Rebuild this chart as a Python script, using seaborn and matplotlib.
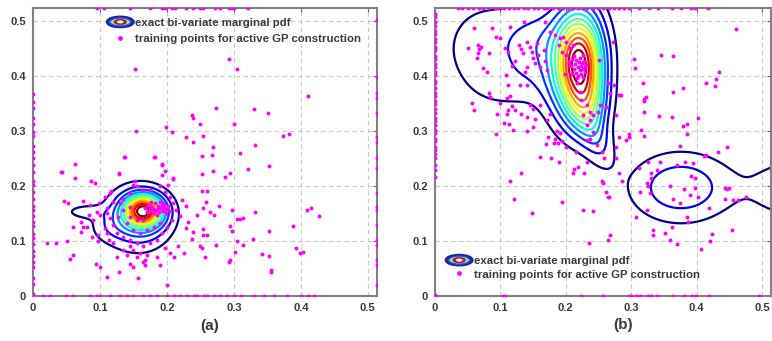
import numpy as np
import pandas as pd
import matplotlib
matplotlib.use("Agg")
import matplotlib.pyplot as plt
import seaborn as sns
from matplotlib.patches import Ellipse
from matplotlib.legend_handler import HandlerBase
from matplotlib.lines import Line2D

# ---------------- data ----------------
XMAX, YMAX = 0.513, 0.523
tick_vals = [0, 0.1, 0.2, 0.3, 0.4, 0.5]
tick_labels = ["0", "0.1", "0.2", "0.3", "0.4", "0.5"]
legend_labels = ["exact bi-variate marginal pdf", "training points for active GP construction"]
panel_labels = ["(a)", "(b)"]

# pdf model (a): mixture components  (height, mean x, mean y, sd x, sd y, corr)
a_h   = [0.75, 0.25, 0.10, 0.06]
a_mx  = [0.165, 0.157, 0.075, 0.11]
a_my  = [0.155, 0.140, 0.153, 0.125]
a_sx  = [0.020, 0.035, 0.020, 0.020]
a_sy  = [0.020, 0.040, 0.009, 0.020]
a_rho = [0.0, 0.0, 0.0, 0.0]

# pdf model (b)
b_h   = [0.72, 0.28, 0.16, 0.20, 0.11, 0.12, 0.05, 0.22, 0.12]
b_mx  = [0.222, 0.210, 0.245, 0.235, 0.150, 0.080, 0.120, 0.376, 0.540]
b_my  = [0.423, 0.420, 0.290, 0.345, 0.460, 0.450, 0.380, 0.197, 0.195]
b_sx  = [0.024, 0.033, 0.020, 0.020, 0.030, 0.055, 0.040, 0.055, 0.045]
b_sy  = [0.062, 0.075, 0.040, 0.035, 0.045, 0.070, 0.030, 0.045, 0.045]
b_rho = [0.0, 0.0, -0.5, 0.0, 0.0, 0.0, 0.0, 0.0, 0.0]

# training points (a)
a_x = [0.293,0.305,0.411,0.273,0.330,0.351,0.250,0.300,0.254,0.374,0.382,0.269,0.331,0.252,0.267,0.309,0.352,0.321,0.269,0.253,
       0.287,0.294,0.252,0.260,0.258,0.278,0.264,0.271,0.297,0.332,0.304,0.309,0.314,0.409,0.415,0.427,0.294,0.297,0.254,0.260,
       0.388,0.353,0.305,0.314,0.329,0.273,0.252,0.257,0.301,0.342,0.352,0.393,0.399,0.403,0.294,0.293,0.355,0.355,
       0.152,0.237,0.239,0.229,0.239,0.207,0.198,0.154,0.192,0.192,0.182,0.209,0.201,0.149,0.129,0.137,0.042,0.062,0.087,
       0.181,0.136,0.063,0.193,0.043,0.129,0.197,0.093,0.209,0.152,0.117,0.046,0.052,0.075,0.085,0.099,0.111,0.222,0.229,0.219,
       0.232,0.245,0.254,0.229,0.239,0.237,0.249,0.254,0.217,0.226,0.021,0.035,0.051,0.059,0.060,0.056,0.072,0.075,0.072,0.080,
       0.084,0.090,0.088,0.097,0.097,0.107,0.110,0.114,0.119,0.094,0.100,0.110,0.126,0.134,0.141,0.145,0.150,0.129,0.157,0.165,
       0.167,0.160,0.155,0.170,0.168,0.185,0.190,0.200,0.197,0.205,0.210,0.145,0.150,
       0.115,0.107,0.120,0.130,0.135,0.145,0.155,0.165,0.175,0.190,0.197,0.204,0.209,0.214,0.207,0.200,0.192,0.185,0.175,0.165,
       0.155,0.145,0.135,0.125,0.120,0.115,0.110,0.100,0.095,0.127,0.140,0.150,0.160,0.170,0.180,0.190,0.145,0.155,0.165,0.135,0.145,
       0.168,0.172,0.175,0.178,0.180,0.182,0.184,0.186,0.188,0.190,0.192,0.194,0.196,0.198,0.200,0.202,0.185,0.176,0.190,0.170,
       0.196,0.204,0.179,0.187,0.193]
a_y = [0.430,0.412,0.363,0.341,0.340,0.332,0.312,0.312,0.291,0.290,0.295,0.270,0.274,0.255,0.256,0.260,0.236,0.231,0.227,0.222,
       0.216,0.223,0.191,0.191,0.170,0.163,0.152,0.147,0.156,0.153,0.140,0.140,0.141,0.157,0.159,0.145,0.128,0.118,0.122,0.111,
       0.127,0.118,0.100,0.093,0.104,0.093,0.088,0.070,0.079,0.077,0.072,0.088,0.078,0.079,0.065,0.061,0.047,0.043,
       0.412,0.329,0.323,0.289,0.279,0.297,0.307,0.300,0.238,0.220,0.253,0.214,0.202,0.202,0.223,0.252,0.226,0.214,0.208,
       0.253,0.252,0.239,0.239,0.225,0.222,0.227,0.206,0.212,0.208,0.191,0.172,0.168,0.173,0.165,0.168,0.160,0.174,0.163,0.145,
       0.135,0.147,0.159,0.123,0.117,0.103,0.090,0.111,0.090,0.078,0.096,0.096,0.099,0.126,0.074,0.067,0.135,0.126,0.116,0.125,
       0.147,0.138,0.108,0.110,0.099,0.123,0.114,0.102,0.096,0.058,0.053,0.035,0.071,0.084,0.074,0.058,0.053,0.044,0.032,0.062,
       0.056,0.078,0.071,0.075,0.066,0.070,0.056,0.020,0.088,0.078,0.070,0.090,0.084,
       0.187,0.180,0.171,0.168,0.177,0.187,0.199,0.193,0.193,0.199,0.189,0.180,0.168,0.156,0.138,0.126,0.114,0.102,0.096,0.090,
       0.096,0.102,0.108,0.114,0.129,0.141,0.150,0.147,0.153,0.144,0.132,0.120,0.114,0.120,0.126,0.132,0.144,0.138,0.138,0.156,0.162,
       0.160,0.165,0.155,0.162,0.150,0.168,0.157,0.163,0.152,0.160,0.166,0.155,0.161,0.150,0.158,0.163,0.147,0.170,0.171,0.152,
       0.168,0.155,0.158,0.160,0.158]
a_left_y = [0.004,0.021,0.033,0.052,0.061,0.072,0.081,0.094,0.106,0.113,0.127,0.134,0.146,0.157,0.163,0.177,0.188,0.201,
            0.209,0.226,0.238,0.251,0.262,0.273,0.291,0.298,0.312,0.324,0.341,0.353,0.366]
a_bottom_x = [0.015,0.025,0.050,0.060,0.085,0.095,0.100,0.115,0.130,0.140,0.150,0.165,0.175,0.185,0.200,0.210,0.220,0.230,
              0.240,0.245,0.255,0.260,0.270,0.280,0.290,0.300,0.310,0.330,0.345,0.360,0.380,0.400,0.410,0.420]
a_right_y = [0.501,0.398,0.368,0.359,0.332,0.289,0.280,0.250,0.232,0.187,0.162,0.156,0.129,0.102,0.093,0.065,0.056,0.020]
a_top_x = [0.095,0.106,0.145,0.175,0.192,0.197,0.207,0.212,0.229,0.239,0.249,0.254,0.272,0.279,0.293,0.297,0.300,0.321]

# training points (b)
b_x = [0.059,0.087,0.115,0.136,0.168,0.093,0.099,0.050,0.065,0.068,0.066,0.071,0.082,0.074,0.079,0.064,0.107,0.112,0.128,0.131,
       0.134,0.122,0.117,0.140,0.145,0.148,0.156,0.158,0.166,0.150,0.153,0.161,0.168,0.171,0.140,0.138,0.109,0.111,0.130,0.140,
       0.082,0.084,0.056,0.110,0.115,0.117,0.111,0.122,0.110,0.100,0.095,0.145,0.150,0.161,0.131,0.140,0.153,0.171,0.176,0.093,
       0.113,0.120,0.140,0.150,0.173,0.186,0.191,0.183,0.194,0.188,0.178,0.190,0.232,
       0.176,0.183,0.191,0.196,0.189,0.201,0.206,0.194,0.201,0.211,0.206,0.199,0.217,0.222,0.224,0.232,0.237,0.227,0.237,0.232,
       0.242,0.237,0.247,0.255,0.242,0.252,0.250,
       0.205,0.208,0.210,0.212,0.214,0.215,0.216,0.218,0.219,0.220,0.221,0.222,0.223,0.224,0.225,0.226,0.227,0.228,0.229,0.230,
       0.231,0.217,0.213,0.226,0.209,
       0.272,0.251,0.264,0.267,0.282,0.261,0.277,0.282,0.277,0.292,0.297,0.259,0.277,0.282,0.256,0.261,0.266,0.268,0.264,0.236,
       0.226,0.211,0.218,0.228,0.194,0.216,0.200,0.233,0.131,0.115,0.121,0.149,0.161,0.106,0.060,0.170,0.182,
       0.460,0.304,0.306,0.345,0.364,0.435,0.429,0.415,0.428,0.318,0.273,0.285,0.322,0.320,0.320,0.364,0.379,0.320,0.343,0.363,
       0.402,0.386,0.379,0.385,0.315,0.296,0.320,
       0.213,0.242,0.257,0.265,0.286,0.307,0.324,0.313,0.329,0.326,0.324,0.331,0.330,0.312,0.325,0.344,0.340,0.370,0.382,0.395,
       0.359,0.381,0.398,0.398,0.390,0.402,0.391,0.364,0.375,0.386,0.387,0.362,0.352,0.334,0.334,0.359,0.370,0.406,0.420,0.423,
       0.454,0.419,0.444,0.450,0.447,0.443,0.456,0.463,0.476,0.375,0.446,0.433,0.415,0.412]
b_y = [0.486,0.487,0.489,0.498,0.498,0.471,0.468,0.451,0.455,0.448,0.442,0.452,0.441,0.414,0.407,0.432,0.450,0.444,0.455,0.449,
       0.441,0.426,0.417,0.462,0.453,0.444,0.459,0.438,0.447,0.432,0.423,0.416,0.426,0.410,0.416,0.407,0.401,0.383,0.383,0.383,
       0.368,0.362,0.350,0.360,0.364,0.345,0.338,0.338,0.330,0.350,0.330,0.347,0.340,0.347,0.330,0.325,0.322,0.320,0.330,0.295,
       0.313,0.302,0.300,0.306,0.289,0.300,0.296,0.285,0.282,0.278,0.250,0.244,0.244,
       0.480,0.474,0.468,0.471,0.456,0.462,0.450,0.444,0.438,0.456,0.420,0.404,0.386,0.371,0.356,0.347,0.335,0.329,0.320,0.311,
       0.298,0.286,0.274,0.262,0.329,0.347,0.335,
       0.425,0.418,0.430,0.412,0.422,0.405,0.428,0.415,0.400,0.425,0.410,0.432,0.418,0.404,0.423,0.412,0.398,0.427,0.416,0.406,
       0.420,0.395,0.435,0.438,0.404,
       0.462,0.429,0.386,0.368,0.365,0.344,0.329,0.289,0.271,0.283,0.295,0.250,0.250,0.223,0.208,0.189,0.180,0.111,0.102,0.096,
       0.156,0.223,0.235,0.223,0.171,0.262,0.271,0.283,0.223,0.208,0.177,0.150,0.253,0.314,0.338,0.276,0.277,
       0.484,0.430,0.414,0.438,0.435,0.406,0.394,0.387,0.381,0.387,0.383,0.365,0.361,0.357,0.354,0.370,0.377,0.335,0.327,0.325,
       0.324,0.312,0.309,0.295,0.301,0.289,0.291,
       0.230,0.154,0.205,0.179,0.209,0.144,0.157,0.189,0.187,0.199,0.205,0.214,0.223,0.232,0.244,0.244,0.229,0.238,0.244,0.241,
       0.200,0.194,0.197,0.214,0.183,0.179,0.218,0.177,0.168,0.144,0.135,0.126,0.114,0.120,0.111,0.102,0.094,0.085,0.099,0.113,
       0.120,0.159,0.196,0.197,0.194,0.176,0.175,0.175,0.179,0.272,0.270,0.262,0.256,0.255]
b_left_y = [0.002,0.216,0.229,0.238,0.251,0.257,0.266,0.271,0.281,0.286,0.296,0.301,0.311,0.318,0.324,0.333,0.339,0.348,0.354,
            0.363,0.369,0.377,0.386,0.391,0.401,0.406,0.416,0.421,0.431,0.436,0.446,0.452,0.461,0.466,0.476,0.481,0.491,
            0.497,0.506,0.513]
b_top_x = [0.035,0.042,0.051,0.058,0.068,0.074,0.083,0.091,0.097,0.106,0.113,0.121,0.127,0.136,0.142,0.151,0.158,0.166,0.172,
           0.181,0.188,0.196,0.203,0.211,0.218,0.227,0.233,0.242,0.249,0.257,0.266,0.273,0.281,0.289,0.297,0.312,0.327,
           0.341,0.362,0.376,0.391,0.398,0.418]
b_bottom_x = [0.000,0.104,0.107,0.224,0.257,0.297,0.300,0.308,0.313,0.326,0.331,0.339,0.364,0.380,0.393,0.399,0.419,0.495]

# ---------------- style ----------------
sns.set_theme(style="white")
plt.rcParams["font.family"] = ["Liberation Sans", "DejaVu Sans"]
TXT = "#3a3a3a"
MAG = "#ff00ff"


def mixture(X, Y, h, mx, my, sx, sy, rho):
    Z = np.zeros_like(X)
    for hh, ax_, ay_, sx_, sy_, r in zip(h, mx, my, sx, sy, rho):
        u = (X - ax_) / sx_
        v = (Y - ay_) / sy_
        q = (u * u + v * v - 2 * r * u * v) / (1 - r * r)
        Z += hh * np.exp(-0.5 * q)
    return Z


class PdfIcon:
    pass


class PdfIconHandler(HandlerBase):
    def create_artists(self, legend, orig_handle, xdescent, ydescent, width, height, fontsize, trans):
        cx = width / 2 - xdescent
        cy = height / 2 - ydescent
        w, hh = width, height * 1.05
        specs = [(1.0, "#1c2590", "#2a3bd0", 2.0),
                 (0.80, "#2a50ff", "#9be69b", 1.0),
                 (0.45, "#b01818", "#c83030", 1.0),
                 (0.22, "#ffffff", "#ffffff", 0.5)]
        arts = []
        for f, ec, fc, lw in specs:
            arts.append(Ellipse((cx, cy), w * f, hh * f, edgecolor=ec, facecolor=fc, lw=lw, transform=trans))
        return arts


def draw_panel(ax, comps, px, py, left_y, bottom_x, right_y, top_x, leg_anchor, leg_spacing):
    g = np.linspace(0, 0.62, 500)
    X, Y = np.meshgrid(g, g)
    Z = mixture(X, Y, *comps)
    zmax = Z.max()
    n = 12
    levels = [zmax * k / (n + 1) for k in range(1, n + 1)]
    cmap = plt.get_cmap("jet")
    colors = [cmap(i / (n - 1)) for i in range(n)]
    ax.contour(X, Y, Z, levels=levels, colors=colors, linewidths=1.6, zorder=2)

    xs = list(px) + [0.0] * len(left_y) + list(bottom_x) + [XMAX] * len(right_y) + list(top_x)
    ys = list(py) + list(left_y) + [0.0] * len(bottom_x) + list(right_y) + [YMAX] * len(top_x)
    df = pd.DataFrame({"x": xs, "y": ys})
    sns.scatterplot(data=df, x="x", y="y", ax=ax, color=MAG, s=8, linewidth=0, zorder=3)

    ax.set_xlim(0, XMAX)
    ax.set_ylim(0, YMAX)
    ax.set_xlabel("")
    ax.set_ylabel("")
    ax.set_xticks(tick_vals)
    ax.set_xticklabels(tick_labels)
    ax.set_yticks(tick_vals)
    ax.set_yticklabels(tick_labels)
    ax.tick_params(direction="in", length=3, width=0.8, top=True, right=True, colors="#666666",
                   labelcolor=TXT, labelsize=8, pad=5)
    for lab in ax.get_xticklabels() + ax.get_yticklabels():
        lab.set_fontweight("bold")
    ax.grid(True, linestyle=(0, (4, 3)), color="#c8c8c8", linewidth=0.8)
    ax.set_axisbelow(True)
    for s in ax.spines.values():
        s.set_color("#808080")
        s.set_linewidth(1.5)

    handles = [PdfIcon(), Line2D([], [], marker="o", ls="", color=MAG, markersize=2.4)]
    ax.legend(handles, legend_labels, handler_map={PdfIcon: PdfIconHandler()}, loc="upper left",
              bbox_to_anchor=leg_anchor, frameon=False, prop={"size": 8.2, "weight": "bold"},
              labelcolor=TXT, handlelength=2.3, handleheight=0.9, handletextpad=0.15,
              labelspacing=leg_spacing, borderaxespad=0, borderpad=0)


fig = plt.figure(figsize=(7.72, 3.41), dpi=100)
axa = fig.add_axes([33 / 772, 45 / 341, 343.5 / 772, 288 / 341])
axb = fig.add_axes([435 / 772, 45 / 341, 335.5 / 772, 288 / 341])

draw_panel(axa, (a_h, a_mx, a_my, a_sx, a_sy, a_rho), a_x, a_y, a_left_y, a_bottom_x, a_right_y, a_top_x,
           (0.216, 0.968), 0.5)
draw_panel(axb, (b_h, b_mx, b_my, b_sx, b_sy, b_rho), b_x, b_y, b_left_y, b_bottom_x, [], b_top_x,
           (0.033, 0.141), 0.25)

fig.text(210 / 772, 1 - 326 / 341, panel_labels[0], ha="center", va="center", fontsize=11,
         fontweight="bold", color=TXT)
fig.text(623 / 772, 1 - 325 / 341, panel_labels[1], ha="center", va="center", fontsize=11,
         fontweight="bold", color=TXT)

fig.savefig("out.png", dpi=100, facecolor="white")
